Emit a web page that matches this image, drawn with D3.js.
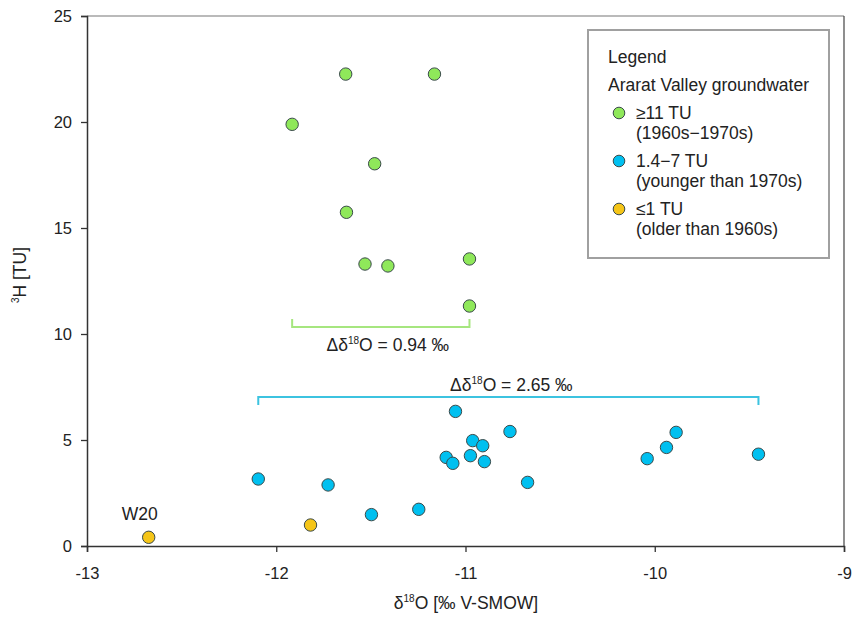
<!DOCTYPE html>
<html>
<head>
<meta charset="utf-8">
<script src="https://cdn.jsdelivr.net/npm/d3@7"></script>
<style>
html,body{margin:0;padding:0;background:#fff;}
text{font-family:"Liberation Sans", Arial, sans-serif;fill:#222;}
</style>
</head>
<body>
<svg id="chart" width="852" height="617"></svg>
<script>
// ---- data ----
const xTicks = [-13, -12, -11, -10, -9];
const yTicks = [0, 5, 10, 15, 20, 25];

const greenX = [-11.633, -11.164, -11.916, -11.480, -11.629, -11.531, -11.410, -10.979, -10.979];
const greenY = [22.26, 22.26, 19.89, 18.03, 15.74, 13.30, 13.21, 13.54, 11.32];

const blueX = [-12.095, -11.726, -11.497, -11.247, -11.102, -11.067, -10.974, -10.962, -10.909, -10.900, -10.765, -10.672, -11.053, -10.040, -9.938, -9.887, -9.452];
const blueY = [3.16, 2.88, 1.48, 1.73, 4.18, 3.90, 4.26, 4.97, 4.73, 3.98, 5.40, 3.00, 6.35, 4.12, 4.65, 5.36, 4.33];

const yellowX = [-12.674, -11.819];
const yellowY = [0.41, 0.99];

const seriesNames = ["≥11 TU", "1.4−7 TU", "≤1 TU"];
const seriesSub = ["(1960s−1970s)", "(younger than 1970s)", "(older than 1960s)"];
const seriesColors = ["#8fe85a", "#00c0f0", "#f5c518"];

// bracket spans (δ18O range of each group)
const greenSpan = [-11.916, -10.979];
const blueSpan = [-12.095, -9.452];

// ---- chart ----
const FS = 17.5;
const svg = d3.select("#chart");
const L = 87, R = 844, T = 16, B = 546;
const x = d3.scaleLinear().domain([-13, -9]).range([L, R]);
const y = d3.scaleLinear().domain([0, 25]).range([B, T]);

// frame top/right
svg.append("line").attr("x1", L).attr("x2", R).attr("y1", T).attr("y2", T)
  .attr("stroke", "#777").attr("stroke-width", 1.2);
svg.append("line").attr("x1", R).attr("x2", R).attr("y1", T).attr("y2", B)
  .attr("stroke", "#444").attr("stroke-width", 1.2);

// axes
const fmt = d => String(d);
const xAxis = svg.append("g").attr("transform", `translate(0,${B})`)
  .call(d3.axisBottom(x).tickValues(xTicks).tickFormat(fmt).tickSizeOuter(0).tickSize(6).tickPadding(15));
const yAxis = svg.append("g").attr("transform", `translate(${L},0)`)
  .call(d3.axisLeft(y).tickValues(yTicks).tickFormat(fmt).tickSizeOuter(0).tickSize(6).tickPadding(9));
[xAxis, yAxis].forEach(g => {
  g.select(".domain").attr("stroke", "#333").attr("stroke-width", 1.5);
  g.selectAll(".tick line").attr("stroke", "#333").attr("stroke-width", 1.3);
  g.selectAll(".tick text").attr("font-size", 16.5).attr("fill", "#222")
    .attr("font-family", "'Liberation Sans', Arial, sans-serif");
});

// axis titles
const xl = svg.append("text").attr("x", 466).attr("y", 609).attr("text-anchor", "middle").attr("font-size", FS);
xl.append("tspan").text("δ");
xl.append("tspan").text("18").attr("font-size", 10).attr("dy", -7);
xl.append("tspan").text("O [‰ V-SMOW]").attr("dy", 7);

const yl = svg.append("text").attr("transform", `translate(26,275) rotate(-90)`)
  .attr("text-anchor", "middle").attr("font-size", FS);
yl.append("tspan").text("3").attr("font-size", 10).attr("dy", -7);
yl.append("tspan").text("H [TU]").attr("dy", 7);

// brackets
function bracket(span, yv, dir, color) {
  const yy = y(yv);
  const p = d3.path();
  p.moveTo(x(span[0]), yy + dir * 8);
  p.lineTo(x(span[0]), yy);
  p.lineTo(x(span[1]), yy);
  p.lineTo(x(span[1]), yy + dir * 8);
  svg.append("path").attr("d", p.toString()).attr("fill", "none")
    .attr("stroke", color).attr("stroke-width", 2);
}
bracket(greenSpan, 10.33, -1, "#a6e67f");
bracket(blueSpan, 7.03, 1, "#3cc3e0");

function deltaLabel(cx, by, val) {
  const t = svg.append("text").attr("x", cx).attr("y", by).attr("text-anchor", "middle").attr("font-size", FS);
  t.append("tspan").text("Δδ");
  t.append("tspan").text("18").attr("font-size", 10).attr("dy", -7);
  t.append("tspan").text(`O = ${val} ‰`).attr("dy", 7);
}
deltaLabel(d3.mean(greenSpan.map(x)) + 7, 351, "0.94");
deltaLabel(d3.mean(blueSpan.map(x)) + 3, 391, "2.65");

// points
function plot(xs, ys, color) {
  svg.append("g").selectAll("circle").data(xs.map((d, i) => [d, ys[i]])).join("circle")
    .attr("cx", d => x(d[0])).attr("cy", d => y(d[1])).attr("r", 6.2)
    .attr("fill", color).attr("stroke", "#3a4a4a").attr("stroke-width", 1);
}
plot(greenX, greenY, seriesColors[0]);
plot(blueX, blueY, seriesColors[1]);
plot(yellowX, yellowY, seriesColors[2]);

svg.append("text").attr("x", x(yellowX[0]) - 9).attr("y", y(yellowY[0]) - 17)
  .attr("text-anchor", "middle").attr("font-size", FS).text("W20");

// legend
svg.append("rect").attr("x", 588).attr("y", 30).attr("width", 241).attr("height", 228)
  .attr("fill", "#fff").attr("stroke", "#a0a0a0").attr("stroke-width", 2);
svg.append("text").attr("x", 608).attr("y", 63).attr("font-size", FS).text("Legend");
svg.append("text").attr("x", 608).attr("y", 91).attr("font-size", FS).text("Ararat Valley groundwater");
seriesNames.forEach((n, i) => {
  const cy = 113 + i * 48;
  svg.append("circle").attr("cx", 619).attr("cy", cy).attr("r", 5.8)
    .attr("fill", seriesColors[i]).attr("stroke", "#3a4a4a").attr("stroke-width", 1);
  svg.append("text").attr("x", 636).attr("y", cy + 6).attr("font-size", FS).text(n);
  svg.append("text").attr("x", 636).attr("y", cy + 25.5).attr("font-size", FS).text(seriesSub[i]);
});
</script>
</body>
</html>
